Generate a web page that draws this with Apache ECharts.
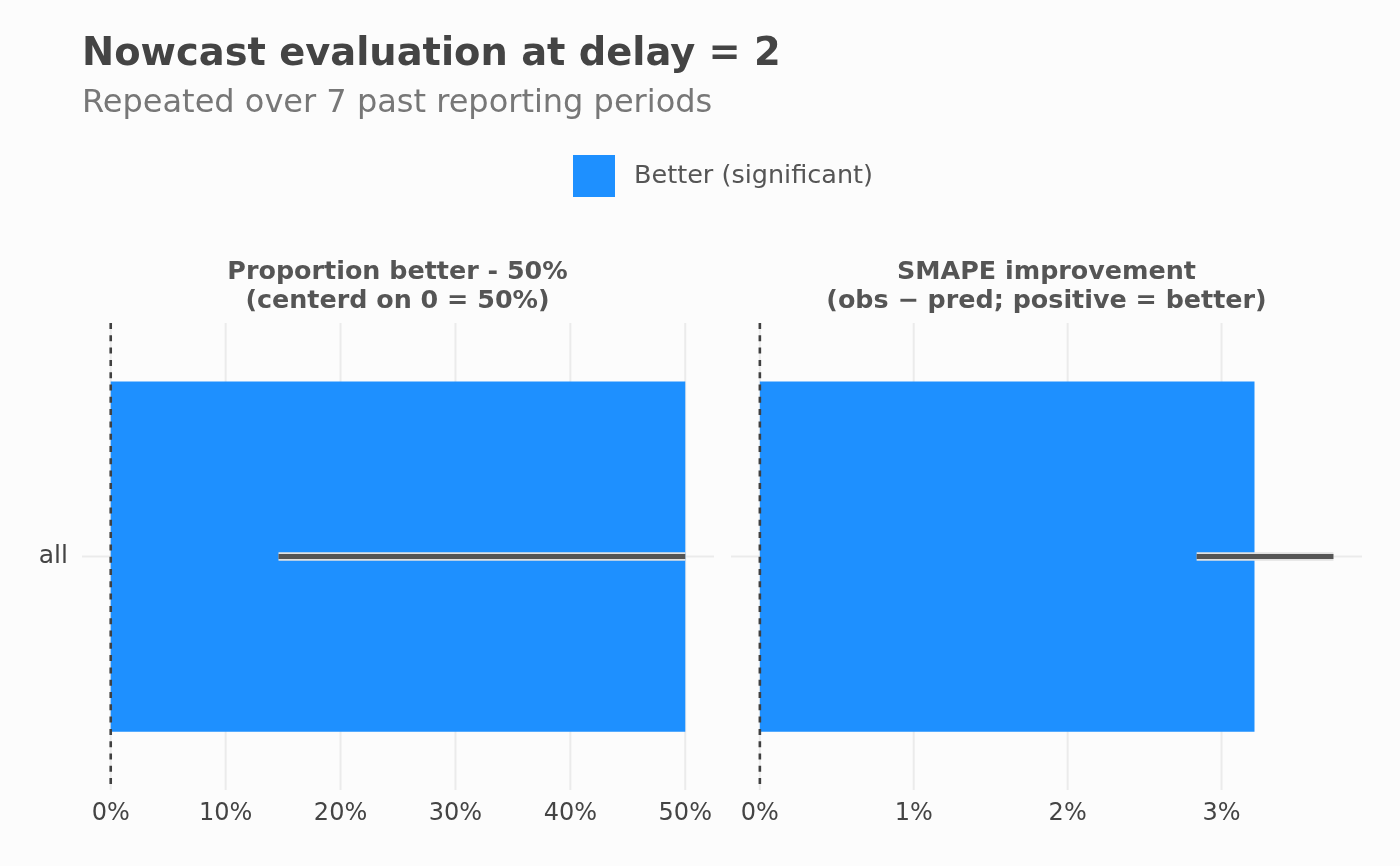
<!DOCTYPE html>
<html>
<head>
<meta charset="utf-8">
<script src="https://cdn.jsdelivr.net/npm/echarts@6/dist/echarts.min.js"></script>
<style>
html,body{margin:0;padding:0;background:#fcfcfc;}
#c{width:1400px;height:866px;}
</style>
</head>
<body>
<div id="c"></div>
<script>
const FONT = '"DejaVu Sans", sans-serif';
const categories = ['all'];
const legendName = 'Better (significant)';
// Panel 1: proportion better - 50%
const propValue = [50];
const propLow = [14.6];
const propHigh = [50];
const propTicks = [0, 10, 20, 30, 40, 50];
// Panel 2: SMAPE improvement
const smapeValue = [3.214];
const smapeLow = [2.838];
const smapeHigh = [3.727];
const smapeTicks = [0, 1, 2, 3];

const chart = echarts.init(document.getElementById('c'), null, {renderer: 'canvas'});

function isTick(v, ticks) {
  return ticks.some(t => Math.abs(t - v) < 1e-6);
}

function gridSeries(idx, ticks) {
  return {
    type: 'custom', xAxisIndex: idx, yAxisIndex: idx, z: 1, silent: true,
    data: ticks.map(t => [t, 0]),
    encode: {x: 0, y: 1},
    renderItem: function (params, api) {
      const x = api.coord([api.value(0), 0])[0];
      const cs = params.coordSys;
      return {type: 'line', shape: {x1: x, y1: cs.y, x2: x, y2: cs.y + cs.height},
        style: {stroke: '#ebebeb', lineWidth: 2}};
    }
  };
}
function hGridSeries(idx) {
  return {
    type: 'custom', xAxisIndex: idx, yAxisIndex: idx, z: 1, silent: true,
    data: categories.map((c, i) => [0, i]),
    encode: {x: 0, y: 1},
    renderItem: function (params, api) {
      const y = api.coord([0, api.value(1)])[1];
      const cs = params.coordSys;
      return {type: 'line', shape: {x1: cs.x, y1: y, x2: cs.x + cs.width, y2: y},
        style: {stroke: '#ebebeb', lineWidth: 2}};
    }
  };
}
function zeroSeries(idx) {
  return {
    type: 'custom', xAxisIndex: idx, yAxisIndex: idx, z: 5, silent: true,
    data: [[0, 0]],
    encode: {x: 0, y: 1},
    renderItem: function (params, api) {
      const x = api.coord([api.value(0), 0])[0];
      const cs = params.coordSys;
      return {type: 'line', shape: {x1: x, y1: cs.y, x2: x, y2: cs.y + cs.height},
        style: {stroke: '#404040', lineWidth: 2.6, lineDash: [6, 6.3]}};
    }
  };
}
function errSeries(idx, lo, hi) {
  return {
    type: 'custom', xAxisIndex: idx, yAxisIndex: idx, z: 6, silent: true,
    data: lo.map((l, i) => [l, hi[i], i]),
    encode: {x: [0, 1], y: 2},
    renderItem: function (params, api) {
      const p1 = api.coord([api.value(0), api.value(2)]);
      const p2 = api.coord([api.value(1), api.value(2)]);
      return {type: 'group', children: [
        {type: 'line', shape: {x1: p1[0], y1: p1[1], x2: p2[0], y2: p2[1]},
          style: {stroke: '#e2e2e2', lineWidth: 8.5, lineCap: 'butt'}},
        {type: 'line', shape: {x1: p1[0], y1: p1[1], x2: p2[0], y2: p2[1]},
          style: {stroke: '#555555', lineWidth: 5, lineCap: 'butt'}}
      ]};
    }
  };
}

const option = {
  backgroundColor: '#fcfcfc',
  animation: false,
  textStyle: {fontFamily: FONT},
  title: [
    {text: 'Nowcast evaluation at delay = 2', left: 82, top: 35, padding: 0,
      textStyle: {fontFamily: FONT, fontSize: 38.4, fontWeight: 'bold', color: '#444444', lineHeight: 40}},
    {text: 'Repeated over 7 past reporting periods', left: 82, top: 87, padding: 0,
      textStyle: {fontFamily: FONT, fontSize: 32, fontWeight: 'normal', color: '#777777', lineHeight: 34}}
  ],
  graphic: [
    {type: 'text', x: 397.5, y: 258, silent: true,
      style: {text: 'Proportion better - 50%\n(centerd on 0 = 50%)', align: 'center', verticalAlign: 'top',
        font: 'bold 25.4px ' + FONT, fill: '#555555', lineHeight: 29}},
    {type: 'text', x: 1046.5, y: 258, silent: true,
      style: {text: 'SMAPE improvement\n(obs \u2212 pred; positive = better)', align: 'center', verticalAlign: 'top',
        font: 'bold 25.4px ' + FONT, fill: '#555555', lineHeight: 29}}
  ],
  legend: {
    data: [{name: legendName, icon: 'rect'}],
    left: 573, top: 155, itemWidth: 42, itemHeight: 42, padding: 0,
    textStyle: {fontFamily: FONT, fontSize: 25.5, color: '#555555', padding: [2, 0, 0, 14]},
    selectedMode: false
  },
  grid: [
    {left: 82, right: 686, top: 323, bottom: 76, containLabel: false},
    {left: 731, right: 38, top: 323, bottom: 76, containLabel: false}
  ],
  xAxis: [
    {type: 'value', gridIndex: 0, min: -2.5, max: 52.5, interval: 2.5,
      axisLine: {show: false}, axisTick: {show: false}, splitLine: {show: false},
      axisLabel: {fontFamily: FONT, fontSize: 24, color: '#444444', margin: 12,
        formatter: v => isTick(v, propTicks) ? Math.round(v) + '%' : ''}},
    {type: 'value', gridIndex: 1, min: -0.1875, max: 3.9125, interval: 0.0625,
      axisLine: {show: false}, axisTick: {show: false}, splitLine: {show: false},
      axisLabel: {fontFamily: FONT, fontSize: 24, color: '#444444', margin: 12,
        formatter: v => isTick(v, smapeTicks) ? Math.round(v) + '%' : ''}}
  ],
  yAxis: [
    {type: 'category', gridIndex: 0, data: categories,
      axisLine: {show: false}, axisTick: {show: false}, splitLine: {show: false},
      axisLabel: {fontFamily: FONT, fontSize: 25, color: '#444444', margin: 14}},
    {type: 'category', gridIndex: 1, data: categories,
      axisLine: {show: false}, axisTick: {show: false}, splitLine: {show: false},
      axisLabel: {show: false}}
  ],
  series: [
    gridSeries(0, propTicks), hGridSeries(0),
    gridSeries(1, smapeTicks), hGridSeries(1),
    {name: legendName, type: 'bar', xAxisIndex: 0, yAxisIndex: 0, data: propValue,
      barWidth: '75%', itemStyle: {color: '#1E90FF'}, z: 2, silent: true},
    {name: legendName, type: 'bar', xAxisIndex: 1, yAxisIndex: 1, data: smapeValue,
      barWidth: '75%', itemStyle: {color: '#1E90FF'}, z: 2, silent: true},
    zeroSeries(0), zeroSeries(1),
    errSeries(0, propLow, propHigh), errSeries(1, smapeLow, smapeHigh)
  ]
};
chart.setOption(option);
</script>
</body>
</html>
